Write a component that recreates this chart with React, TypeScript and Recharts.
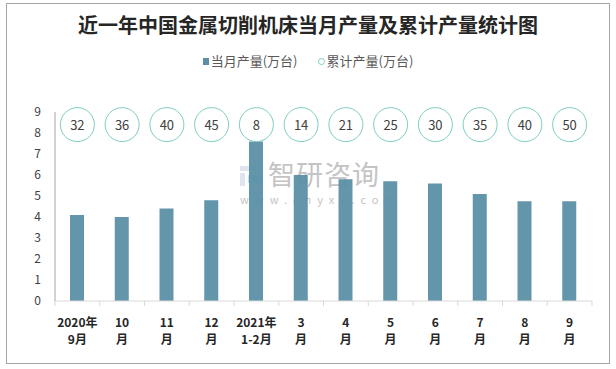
import React from 'react';
import { ComposedChart, Bar, Line, XAxis, YAxis } from 'recharts';

const months = ['2020年|9月', '10|月', '11|月', '12|月', '2021年|1-2月', '3|月', '4|月', '5|月', '6|月', '7|月', '8|月', '9|月'];
const monthly = [4.1, 4.0, 4.4, 4.8, 7.6, 6.0, 5.8, 5.7, 5.6, 5.1, 4.75, 4.75];
const cumulative = [32, 36, 40, 45, 8, 14, 21, 25, 30, 35, 40, 50];
const yTicks = [0, 1, 2, 3, 4, 5, 6, 7, 8, 9];

const data = months.map((m, i) => ({ month: m, monthly: monthly[i], cumulative: cumulative[i] }));

const W = 616;
const H = 369;
const PLOT_LEFT = 55;
const PLOT_RIGHT = 592;
const BAND = (PLOT_RIGHT - PLOT_LEFT) / months.length;
// circle row sits near the top of the value axis
const CIRCLE_ROW = 8.4;

const BAR_COLOR = '#5b8fa6';
const RING_COLOR = '#7ecdc3';

const MonthTick = (props: any) => {
  const { x, y, payload, index } = props;
  const [l1, l2] = String(payload.value).split('|');
  const axisY = y - 10;
  return (
    <g>
      <line x1={x - BAND / 2} x2={x - BAND / 2} y1={axisY} y2={axisY + 5} stroke="#d9d9d9" />
      {index === months.length - 1 && (
        <line x1={x + BAND / 2} x2={x + BAND / 2} y1={axisY} y2={axisY + 5} stroke="#d9d9d9" />
      )}
      <text x={x} y={axisY + 26} textAnchor="middle" fontSize={12} fontWeight="bold" fill="#262626">
        {l1}
      </text>
      <text x={x} y={axisY + 43} textAnchor="middle" fontSize={12} fontWeight="bold" fill="#262626">
        {l2}
      </text>
    </g>
  );
};

const RingDot = (props: any) => {
  const { cx, cy, payload } = props;
  if (cx == null || cy == null) return null;
  return (
    <g>
      <circle cx={cx} cy={cy} r={17} fill="#fff" stroke={RING_COLOR} strokeWidth={1} />
      <text x={cx} y={cy + 5} textAnchor="middle" fontSize={13} fill="#404040">
        {payload.cumulative}
      </text>
    </g>
  );
};

export default function App() {
  const font = '"Noto Sans CJK SC", "Noto Sans", sans-serif';
  return (
    <div style={{ position: 'absolute', left: 0, top: 0, width: W, height: H, background: '#fff', fontFamily: font }}>
      <div
        style={{
          position: 'absolute', left: 6, top: 3, width: 604, height: 361,
          border: '1px solid #a6a6a6', boxSizing: 'border-box',
        }}
      />
      <div
        style={{
          position: 'absolute', left: 0, top: 11, width: W, textAlign: 'center',
          fontSize: 20, fontWeight: 'bold', color: '#262626', lineHeight: '28px',
        }}
      >
        近一年中国金属切削机床当月产量及累计产量统计图
      </div>
      <div
        style={{
          position: 'absolute', left: 0, top: 51, width: W, display: 'flex', justifyContent: 'center',
          alignItems: 'center', fontSize: 13, color: '#595959', lineHeight: '20px',
        }}
      >
        <span style={{ display: 'inline-block', width: 6, height: 7, background: BAR_COLOR, marginRight: 2 }} />
        <span>当月产量(万台)</span>
        <span
          style={{
            display: 'inline-block', width: 5, height: 5, borderRadius: '50%',
            border: `1px solid ${RING_COLOR}`, marginLeft: 20, marginRight: 2,
          }}
        />
        <span>累计产量(万台)</span>
      </div>
      <div style={{ position: 'absolute', left: 240, top: 166, width: 22, height: 22 }}>
        <div style={{ position: 'absolute', left: 0, top: 0, width: 14, height: 5, background: '#dfe5ee' }} />
        <div style={{ position: 'absolute', left: 0, top: 7, width: 5, height: 13, background: '#dfe5ee' }} />
        <div style={{ position: 'absolute', left: 8, top: 9, width: 14, height: 8, background: '#c8dcef' }} />
      </div>
      <div
        style={{
          position: 'absolute', left: 268, top: 158, fontSize: 27, color: '#c4c4c4',
          letterSpacing: 1, lineHeight: '32px',
        }}
      >
        智研咨询
      </div>
      <div
        style={{
          position: 'absolute', left: 240, top: 192, fontSize: 11, color: '#c4c4c4',
          letterSpacing: 6, lineHeight: '14px',
        }}
      >
        www.chyxx.com
      </div>
      <ComposedChart
        width={W}
        height={H}
        data={data}
        margin={{ top: 112, right: W - PLOT_RIGHT, left: 0, bottom: 38 }}
        style={{ position: 'absolute', left: 0, top: 0 }}
      >
        <XAxis
          dataKey="month"
          interval={0}
          height={30}
          stroke="#d9d9d9"
          tickLine={false}
          tick={<MonthTick />}
          tickSize={0}
          tickMargin={10}
        />
        <YAxis
          width={PLOT_LEFT}
          domain={[0, 9]}
          ticks={yTicks}
          interval={0}
          stroke="#a6a6a6"
          tickLine={false}
          tickSize={0}
          tickMargin={14}
          tick={{ fontSize: 12, fill: '#404040' }}
        />
        <Bar dataKey="monthly" fill={BAR_COLOR} fillOpacity={0.95} barSize={14} isAnimationActive={false} />
        <Line
          dataKey={() => CIRCLE_ROW}
          stroke="none"
          dot={<RingDot />}
          activeDot={false}
          isAnimationActive={false}
        />
      </ComposedChart>
    </div>
  );
}
